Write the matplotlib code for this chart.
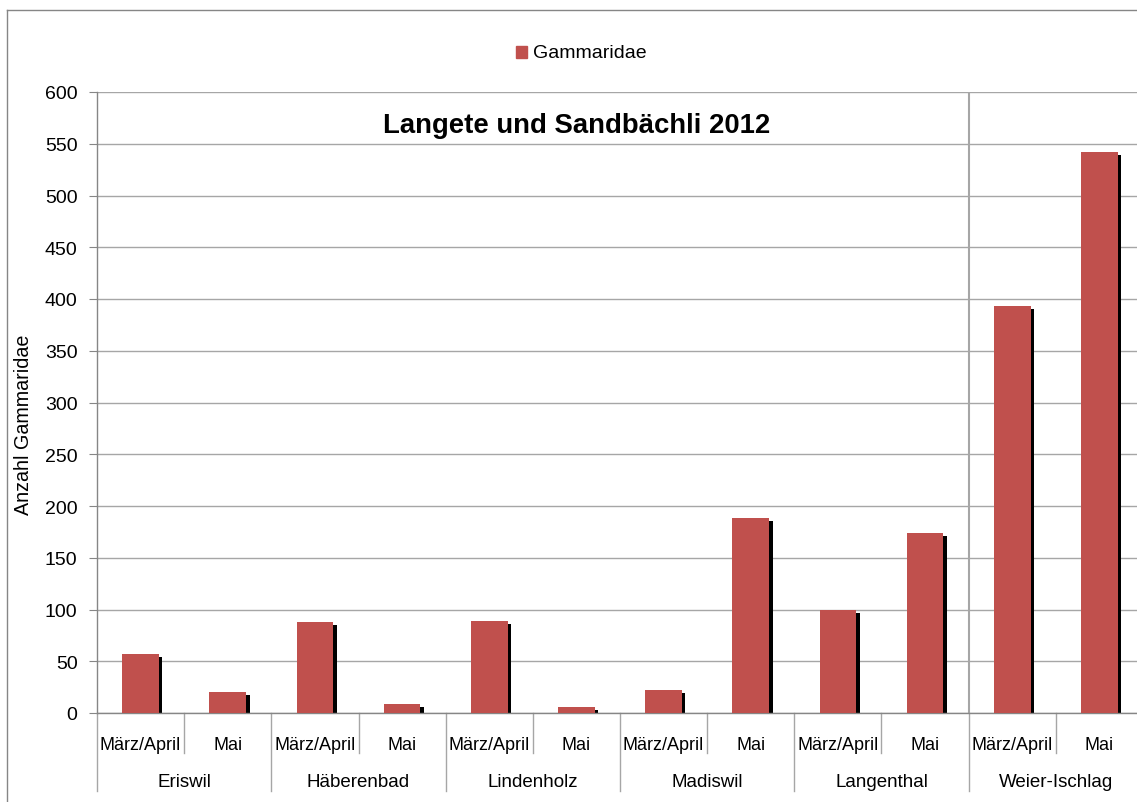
import numpy as np
import matplotlib.pyplot as plt
from matplotlib.lines import Line2D

# Gammaridae counts per site and sampling period
sites = ['Eriswil', 'Häberenbad', 'Lindenholz', 'Madiswil', 'Langenthal', 'Weier-Ischlag']
periods = ['März/April', 'Mai']
counts_maerz = [57, 88, 89, 22, 100, 393]
counts_mai = [20, 9, 6, 188, 174, 542]

yticks = list(range(0, 601, 50))

plt.rcParams['font.family'] = ['Liberation Sans', 'DejaVu Sans']

W, H = 1137, 803
fig = plt.figure(figsize=(W / 100, H / 100), dpi=100)
fig.patch.set_facecolor('white')

# plot area in pixel coords (right side runs past the image edge)
x0, x1 = 97, 1143
y_top, y_bot = 93, 714
ax = fig.add_axes([x0 / W, (H - y_bot) / H, (x1 - x0) / W, (y_bot - y_top) / H])

values = []
for a, b in zip(counts_maerz, counts_mai):
    values += [a, b]
values = np.array(values)
n = len(values)
xpos = np.arange(n) + 0.5

bar_w = 0.42
px_x = n / (x1 - x0)          # data units per pixel, x
px_y = 600 / (y_bot - y_top)  # data units per pixel, y

# black drop shadow behind each bar
ax.bar(xpos + 3.5 * px_x, values - 3 * px_y, width=bar_w, color='black', zorder=2)
ax.bar(xpos, values, width=bar_w, color='#c0504d', zorder=3)

ax.set_xlim(0, n)
ax.set_ylim(0, 600)
ax.set_yticks(yticks)
ax.tick_params(axis='y', direction='out', length=6, color='#868686', labelsize=14, pad=8)
ax.set_xticks([])
ax.yaxis.grid(True, color='#a6a6a6', linewidth=1)
ax.set_axisbelow(True)
for side in ['top', 'right']:
    ax.spines[side].set_visible(False)
for side in ['left', 'bottom']:
    ax.spines[side].set_color('#868686')
    ax.spines[side].set_linewidth(1)

# vertical separator before the last site
ax.axvline(10, color='#a6a6a6', linewidth=1.5, zorder=1)

fig.text(24 / W, 1 - 425 / H, 'Anzahl Gammaridae', rotation=90, fontsize=14.2,
         ha='center', va='center')

# two-level category axis
trans = ax.get_xaxis_transform()
h_ax = y_bot - y_top
row1 = -32 / h_ax
row2 = -69 / h_ax
for i in range(n):
    ax.text(xpos[i], row1, periods[i % 2], transform=trans, ha='center', va='center', fontsize=13)
for g, site in enumerate(sites):
    ax.text(2 * g + 1, row2, site, transform=trans, ha='center', va='center', fontsize=13.5)
for i in range(n + 1):
    depth = -78 / h_ax if i % 2 == 0 else -40 / h_ax
    ax.add_line(Line2D([i, i], [0, depth], transform=trans, color='#a6a6a6', linewidth=1, clip_on=False))

ax.text(5.5, (y_bot - 133) * px_y, 'Langete und Sandbächli 2012', ha='center', va='baseline',
        fontsize=19.8, fontweight='bold')

# legend
fig.patches.append(plt.Rectangle((516 / W, 1 - 59 / H), 11 / W, 12 / H, color='#c0504d',
                                 transform=fig.transFigure, figure=fig))
fig.text(533 / W, 1 - 53 / H, 'Gammaridae', fontsize=14, va='center', ha='left')

# chart border
fig.add_artist(Line2D([7 / W, 1], [1 - 11 / H, 1 - 11 / H], transform=fig.transFigure, color='#868686', linewidth=1))
fig.add_artist(Line2D([7 / W, 7 / W], [0, 1 - 11 / H], transform=fig.transFigure, color='#868686', linewidth=1))

fig.savefig('out.png', dpi=100)
